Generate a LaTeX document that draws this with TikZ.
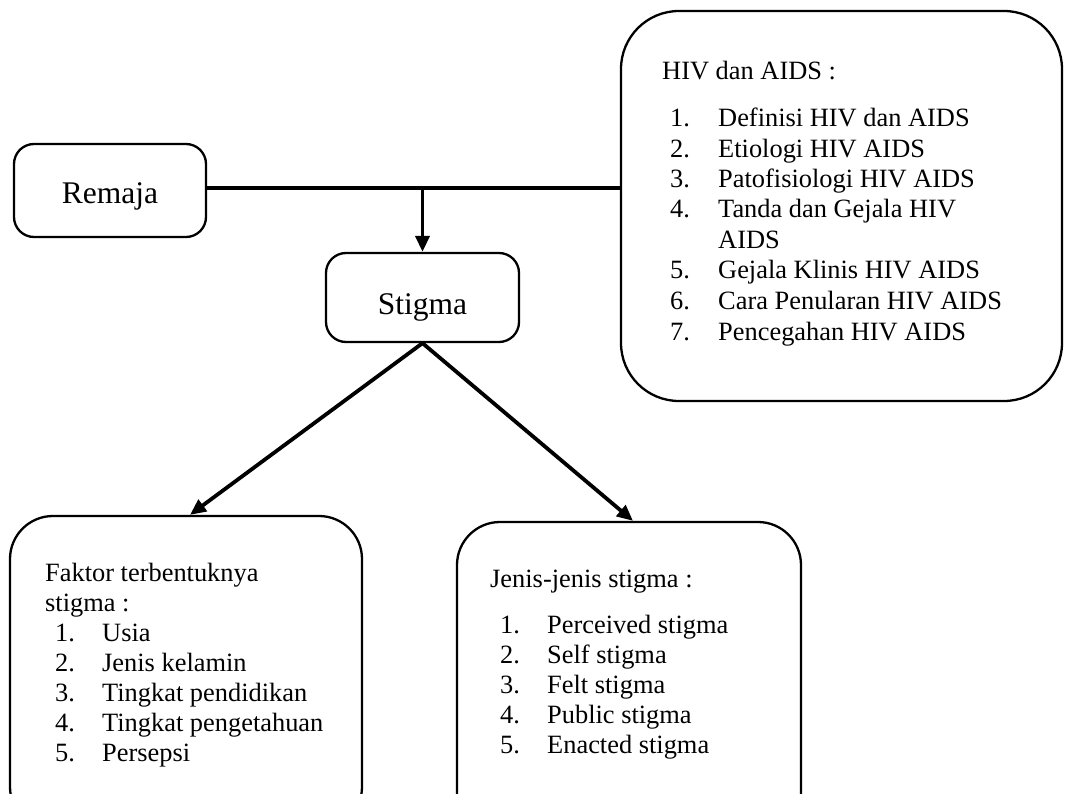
\documentclass[tikz,border=0pt]{standalone}
\usepackage{fontspec}
\setmainfont{Liberation Serif}
\usetikzlibrary{arrows.meta}
\begin{document}
\begin{tikzpicture}[x=1pt,y=-1pt,
  box/.style={draw=black, line width=2.3pt, rounded corners=#1, inner sep=0pt},
  conn/.style={line width=3.8pt},
  arr/.style={conn, -{Triangle[length=16pt,width=14pt]}},
  txt/.style={anchor=base west, inner sep=0pt, font=\fontsize{26.4}{30.4}\selectfont},
  big/.style={anchor=base, inner sep=0pt, font=\fontsize{31.5}{36}\selectfont}]
\useasboundingbox (0,0) rectangle (1068,794);
\fill[white] (0,0) rectangle (1068,794);
\clip (0,0) rectangle (1068,794);

% boxes
\node[box=20pt, minimum width=192pt, minimum height=93pt] (remaja) at (110,190.5) {};
\node[box=20pt, minimum width=193pt, minimum height=89pt] (stigma) at (422.5,297.5) {};
\node[box=58pt, minimum width=441pt, minimum height=390pt] (hiv) at (841.5,206) {};
\node[box=43pt, minimum width=352pt, minimum height=314pt] (faktor) at (186,673) {};
\node[box=43pt, minimum width=344pt, minimum height=314pt] (jenis) at (629,679) {};

% texts
\node[big] (remajaT) at (110,204) {Remaja};
\node[big] (stigmaT) at (422.5,315) {Stigma};

\node[txt] (hivT) at (662,80) {HIV dan AIDS :};
\foreach \n/\t/\y [count=\i] in {1./Definisi HIV dan AIDS/127,
  2./Etiologi HIV AIDS/157.5,
  3./Patofisiologi HIV AIDS/188,
  4./Tanda dan Gejala HIV/218,
  5./Gejala Klinis HIV AIDS/279,
  6./Cara Penularan HIV AIDS/309.5,
  7./Pencegahan HIV AIDS/340}{
  \node[txt] (hivN\i) at (670,\y) {\n};
  \node[txt] (hivI\i) at (718,\y) {\t};
}
\node[txt] (hivI4b) at (718,248.5) {AIDS};

\node[txt] (faktorT1) at (45,581.7) {Faktor terbentuknya};
\node[txt] (faktorT2) at (45,611.7) {stigma :};
\foreach \n/\t/\y [count=\i] in {1./Usia/641.7,
  2./Jenis kelamin/671.7,
  3./Tingkat pendidikan/701.7,
  4./Tingkat pengetahuan/731.7,
  5./Persepsi/761.7}{
  \node[txt] (faktorN\i) at (55,\y) {\n};
  \node[txt] (faktorI\i) at (102,\y) {\t};
}

\node[txt] (jenisT) at (490,587) {Jenis-jenis stigma :};
\foreach \n/\t/\y [count=\i] in {1./Perceived stigma/633,
  2./Self stigma/663,
  3./Felt stigma/693,
  4./Public stigma/723,
  5./Enacted stigma/753}{
  \node[txt] (jenisN\i) at (500,\y) {\n};
  \node[txt] (jenisI\i) at (547,\y) {\t};
}

% connectors
\coordinate (j) at (422.5,188);
\draw[conn] (remaja.east |- j) -- (hiv.west |- j);
\draw[arr] (j) -- (stigma.north);
\draw[arr] (stigma.south) -- ([xshift=4pt]faktor.north);
\draw[arr] (stigma.south) -- ([xshift=4pt]jenis.north);
\end{tikzpicture}
\end{document}
